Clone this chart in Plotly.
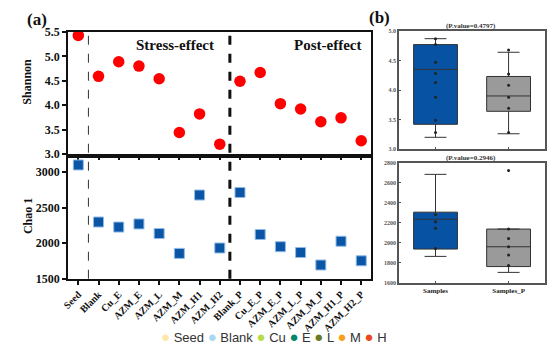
import plotly.graph_objects as go

# ---------------- data ----------------
stress_cats = ["Seed", "Blank", "Cu_E", "AZM_E", "AZM_L", "AZM_M", "AZM_H1", "AZM_H2"]
post_cats = ["Blank_P", "Cu_E_P", "AZM_E_P", "AZM_L_P", "AZM_M_P", "AZM_H1_P", "AZM_H2_P"]
categories = stress_cats + post_cats

shannon = [5.43, 4.59, 4.89, 4.80, 4.54, 3.44, 3.82, 3.20,
           4.49, 4.67, 4.03, 3.92, 3.66, 3.74, 3.27]
chao1 = [3099, 2297, 2226, 2270, 2135, 1856, 2676, 1932,
         2712, 2122, 1950, 1869, 1693, 2027, 1752]

box_groups = ["Samples", "Samples_P"]
# Shannon box stats
sh_q1 = [3.42, 3.64]
sh_med = [4.35, 3.90]
sh_q3 = [4.77, 4.23]
sh_lo = [3.20, 3.26]
sh_hi = [4.87, 4.64]
sh_pts_samples = [4.87, 4.77, 4.47, 4.28, 4.13, 3.88, 3.49, 3.28]
sh_pts_samples_p = [4.68, 4.27, 4.08, 3.88, 3.69, 3.28]
# Chao1 box stats
ch_q1 = [1935, 1760]
ch_med = [2233, 1958]
ch_q3 = [2304, 2135]
ch_lo = [1862, 1702]
ch_hi = [2682, 2135]
ch_pts_samples = [2281, 2207, 2144, 1942]
ch_pts_samples_p = [2720, 2135, 2040, 1958, 1877, 1770]

p_values = ["0.4797", "0.2946"]

legend_names = ["Seed", "Blank", "Cu", "E", "L", "M", "H"]
legend_colors = ["#fde7a8", "#a9d8f2", "#b7dc45", "#00876c", "#6a7a20", "#f6a11c", "#e9481f"]

# ---------------- figure ----------------
SERIF = "Liberation Serif"
fig = go.Figure()

fig.add_trace(go.Scatter(x=categories, y=shannon, mode="markers", xaxis="x", yaxis="y",
                         marker=dict(color="#ff0000", size=11.5, line=dict(width=0)),
                         showlegend=False))
fig.add_trace(go.Scatter(x=categories, y=chao1, mode="markers", xaxis="x2", yaxis="y2",
                         marker=dict(symbol="square", color="#0a55a6", size=10,
                                     line=dict(color="#8fbbe6", width=1)),
                         showlegend=False))

box_fill = ["#0752a3", "#9a9a9a"]
for i, g in enumerate(box_groups):
    fig.add_trace(go.Box(x=[g], q1=[sh_q1[i]], median=[sh_med[i]], q3=[sh_q3[i]],
                         lowerfence=[sh_lo[i]], upperfence=[sh_hi[i]],
                         xaxis="x3", yaxis="y3", fillcolor=box_fill[i],
                         line=dict(color="#333333", width=1), width=0.6,
                         whiskerwidth=0.5, boxpoints=False, showlegend=False))
    fig.add_trace(go.Box(x=[g], q1=[ch_q1[i]], median=[ch_med[i]], q3=[ch_q3[i]],
                         lowerfence=[ch_lo[i]], upperfence=[ch_hi[i]],
                         xaxis="x4", yaxis="y4", fillcolor=box_fill[i],
                         line=dict(color="#333333", width=1), width=0.6,
                         whiskerwidth=0.5, boxpoints=False, showlegend=False))

pt_style = dict(mode="markers", marker=dict(color="#222222", size=3), showlegend=False)
fig.add_trace(go.Scatter(x=[box_groups[0]] * len(sh_pts_samples), y=sh_pts_samples,
                         xaxis="x3", yaxis="y3", **pt_style))
fig.add_trace(go.Scatter(x=[box_groups[1]] * len(sh_pts_samples_p), y=sh_pts_samples_p,
                         xaxis="x3", yaxis="y3", **pt_style))
fig.add_trace(go.Scatter(x=[box_groups[0]] * len(ch_pts_samples), y=ch_pts_samples,
                         xaxis="x4", yaxis="y4", **pt_style))
fig.add_trace(go.Scatter(x=[box_groups[1]] * len(ch_pts_samples_p), y=ch_pts_samples_p,
                         xaxis="x4", yaxis="y4", **pt_style))

W, H = 554, 352
def px_x(p):
    return p / W
def px_y(p):
    return 1 - p / H

dom_a_x = [px_x(62), px_x(369)]
dom_top_y = [px_y(153), px_y(26)]
dom_bot_y = [px_y(283), px_y(157)]
dom_b_x = [px_x(397), px_x(545)]
dom_btop_y = [px_y(148), px_y(25)]
dom_bbot_y = [px_y(287), px_y(162)]

tickfont_a = dict(family=SERIF, size=12, color="#111111", weight="bold")
ax_common = dict(showline=True, mirror=True, linecolor="#111111", linewidth=2,
                 showgrid=False, zeroline=False, ticks="outside", ticklen=4,
                 tickwidth=1.5, tickcolor="#111111")
n = len(categories)
fig.update_layout(
    width=W, height=H, margin=dict(l=0, r=0, t=0, b=0),
    paper_bgcolor="white", plot_bgcolor="white",
    xaxis=dict(domain=dom_a_x, anchor="y", type="category", categoryorder="array",
               categoryarray=categories, range=[-0.5, n - 0.5], showticklabels=False,
               **ax_common),
    yaxis=dict(domain=dom_top_y, anchor="x", range=[3.0, 5.5], tickvals=[3.0, 3.5, 4.0, 4.5, 5.0, 5.5],
               tickformat=".1f", tickfont=tickfont_a, **ax_common),
    xaxis2=dict(domain=dom_a_x, anchor="y2", type="category", categoryorder="array",
                categoryarray=categories, range=[-0.5, n - 0.5], tickangle=-45,
                tickfont=dict(family=SERIF, size=10, color="#111111", weight="bold"),
                **ax_common),
    yaxis2=dict(domain=dom_bot_y, anchor="x2", range=[1500, 3200], tickvals=[1500, 2000, 2500, 3000],
                tickfont=tickfont_a, **ax_common),
)

ax_b = dict(showline=True, mirror=True, linecolor="#555555", linewidth=1.5,
            showgrid=False, zeroline=False, ticks="inside", ticklen=2,
            tickcolor="#555555")
small_font = dict(family=SERIF, size=7, color="#222222", weight="bold")
fig.update_layout(
    xaxis3=dict(domain=dom_b_x, anchor="y3", type="category", range=[-0.5, 1.5],
                showticklabels=False, **ax_b),
    yaxis3=dict(domain=dom_btop_y, anchor="x3", range=[3.0, 5.0], tickvals=[3.0, 3.5, 4.0, 4.5, 5.0],
                tickformat=".1f", tickfont=dict(family=SERIF, size=6, color="#555555", weight="bold"), **ax_b),
    xaxis4=dict(domain=dom_b_x, anchor="y4", type="category", range=[-0.5, 1.5],
                tickfont=small_font, **ax_b),
    yaxis4=dict(domain=dom_bbot_y, anchor="x4", range=[1600, 2800],
                tickvals=[1600, 1800, 2000, 2200, 2400, 2600, 2800],
                tickfont=dict(family=SERIF, size=6, color="#555555", weight="bold"), **ax_b),
)

# separators derived from category groups
sep_thin = 0.5
sep_thick = len(stress_cats) - 0.5
fig.add_shape(type="line", xref="x", yref="paper", x0=sep_thin, x1=sep_thin,
              y0=dom_bot_y[0], y1=dom_top_y[1], line=dict(color="#333333", width=1, dash="dash"))
fig.add_shape(type="line", xref="x", yref="paper", x0=sep_thick, x1=sep_thick,
              y0=dom_bot_y[0], y1=dom_top_y[1], line=dict(color="#111111", width=3, dash="dash"))

bold_serif = lambda s, c="#111111": dict(family=SERIF, size=s, color=c, weight="bold")
ann = [
    dict(text="(a)", x=px_x(30), y=px_y(13), font=bold_serif(17)),
    dict(text="(b)", x=px_x(377), y=px_y(11), font=bold_serif(17)),
    dict(text="Stress-effect", x=px_x(170), y=px_y(40), font=bold_serif(15)),
    dict(text="Post-effect", x=px_x(325), y=px_y(40), font=bold_serif(15)),
    dict(text="Shannon", x=px_x(20), y=px_y(78), font=bold_serif(12), textangle=-90),
    dict(text="Chao 1", x=px_x(22), y=px_y(218), font=bold_serif(12), textangle=-90),
    dict(text="(P.value=" + p_values[0] + ")", x=px_x(470), y=px_y(20), font=bold_serif(7, "#333333")),
    dict(text="(P.value=" + p_values[1] + ")", x=px_x(470), y=px_y(157), font=bold_serif(7, "#333333")),
]
legend_html = " ".join(
    f'<span style="color:{c};font-size:15px">●</span> {nm}' for nm, c in zip(legend_names, legend_colors))
ann.append(dict(text=legend_html, x=px_x(270), y=px_y(343),
                font=dict(family="Liberation Sans", size=13, color="#333333")))
for a in ann:
    fig.add_annotation(xref="paper", yref="paper", showarrow=False,
                       xanchor="center", yanchor="middle", **a)

fig.write_html("out.html")
